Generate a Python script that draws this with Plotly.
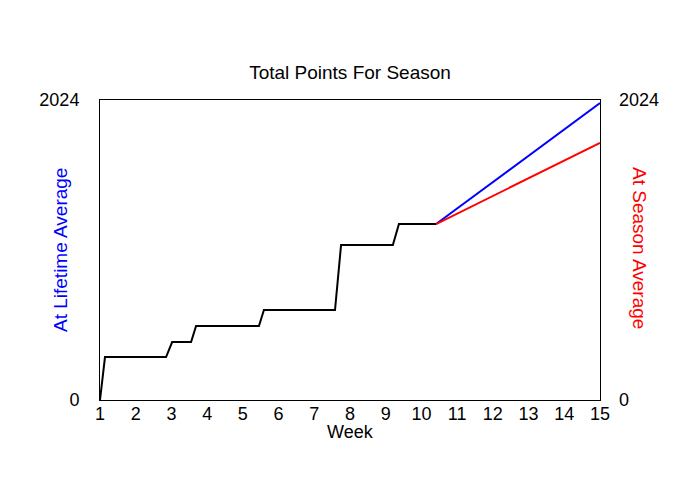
import plotly.graph_objects as go

# Actual season total (step line)
week = [1.0, 1.14, 2.85, 3.02, 3.55, 3.69, 5.45, 5.59, 7.58, 7.75, 9.2, 9.37, 10.41]
points = [0, 290, 290, 391, 391, 499, 499, 607, 607, 1046, 1046, 1187, 1187]

# Projections
proj_week = [10.41, 15.0]
lifetime_avg = [1187, 2004]
season_avg = [1187, 1734]

y_max = 2024
x_ticks = list(range(1, 16))
y_ticks = [0, 2024]

font_name = "Liberation Sans, Arial, sans-serif"

# the page body adds an 8px offset; compensate in margins
OFF = 8

def px_to_paper_x(px):
    return (px - 100) / 500

def px_to_paper_y(py):
    return (400 - py) / 300

fig = go.Figure()
fig.add_trace(go.Scatter(x=proj_week, y=lifetime_avg, mode="lines",
                         line=dict(color="#0000ff", width=2), showlegend=False))
fig.add_trace(go.Scatter(x=proj_week, y=season_avg, mode="lines",
                         line=dict(color="#ff0000", width=2), showlegend=False, yaxis="y2"))
fig.add_trace(go.Scatter(x=week, y=points, mode="lines",
                         line=dict(color="#000000", width=2), showlegend=False))

fig.update_layout(
    width=700, height=500,
    margin=dict(l=100 - OFF, r=100 + OFF, t=100 - OFF, b=100 + OFF, autoexpand=False),
    paper_bgcolor="white", plot_bgcolor="white",
    font=dict(family=font_name, color="black"),
    title=dict(text="Total Points For Season", x=px_to_paper_x(350), xref="paper",
               xanchor="center", y=1 - (72 - OFF) / 500, yanchor="middle",
               font=dict(size=19, color="black")),
    xaxis=dict(range=[1, 15], tickvals=x_ticks, showgrid=False, zeroline=False,
               showline=True, linecolor="black", linewidth=1, mirror=True,
               ticks="", tickfont=dict(size=18), ticklabelstandoff=-3),
    yaxis=dict(range=[0, y_max], tickvals=y_ticks, showgrid=False, zeroline=False,
               showline=True, linecolor="black", linewidth=1, mirror=True,
               ticks="", tickfont=dict(size=18), ticklabelstandoff=16),
    yaxis2=dict(range=[0, y_max], tickvals=y_ticks, overlaying="y", side="right",
                showgrid=False, zeroline=False, showline=False,
                ticks="", tickfont=dict(size=18), ticklabelstandoff=18),
    annotations=[
        dict(text="Week", x=px_to_paper_x(350), y=px_to_paper_y(432),
             xref="paper", yref="paper", showarrow=False,
             xanchor="center", yanchor="middle",
             font=dict(size=18, color="black")),
        dict(text="At Lifetime Average", x=px_to_paper_x(60), y=px_to_paper_y(250),
             xref="paper", yref="paper", showarrow=False, textangle=-90,
             xanchor="center", yanchor="middle",
             font=dict(size=19, color="#0000ff")),
        dict(text="At Season Average", x=px_to_paper_x(640), y=px_to_paper_y(248),
             xref="paper", yref="paper", showarrow=False, textangle=90,
             xanchor="center", yanchor="middle",
             font=dict(size=19, color="#ff0000")),
    ],
)

fig.write_html("out.html")
